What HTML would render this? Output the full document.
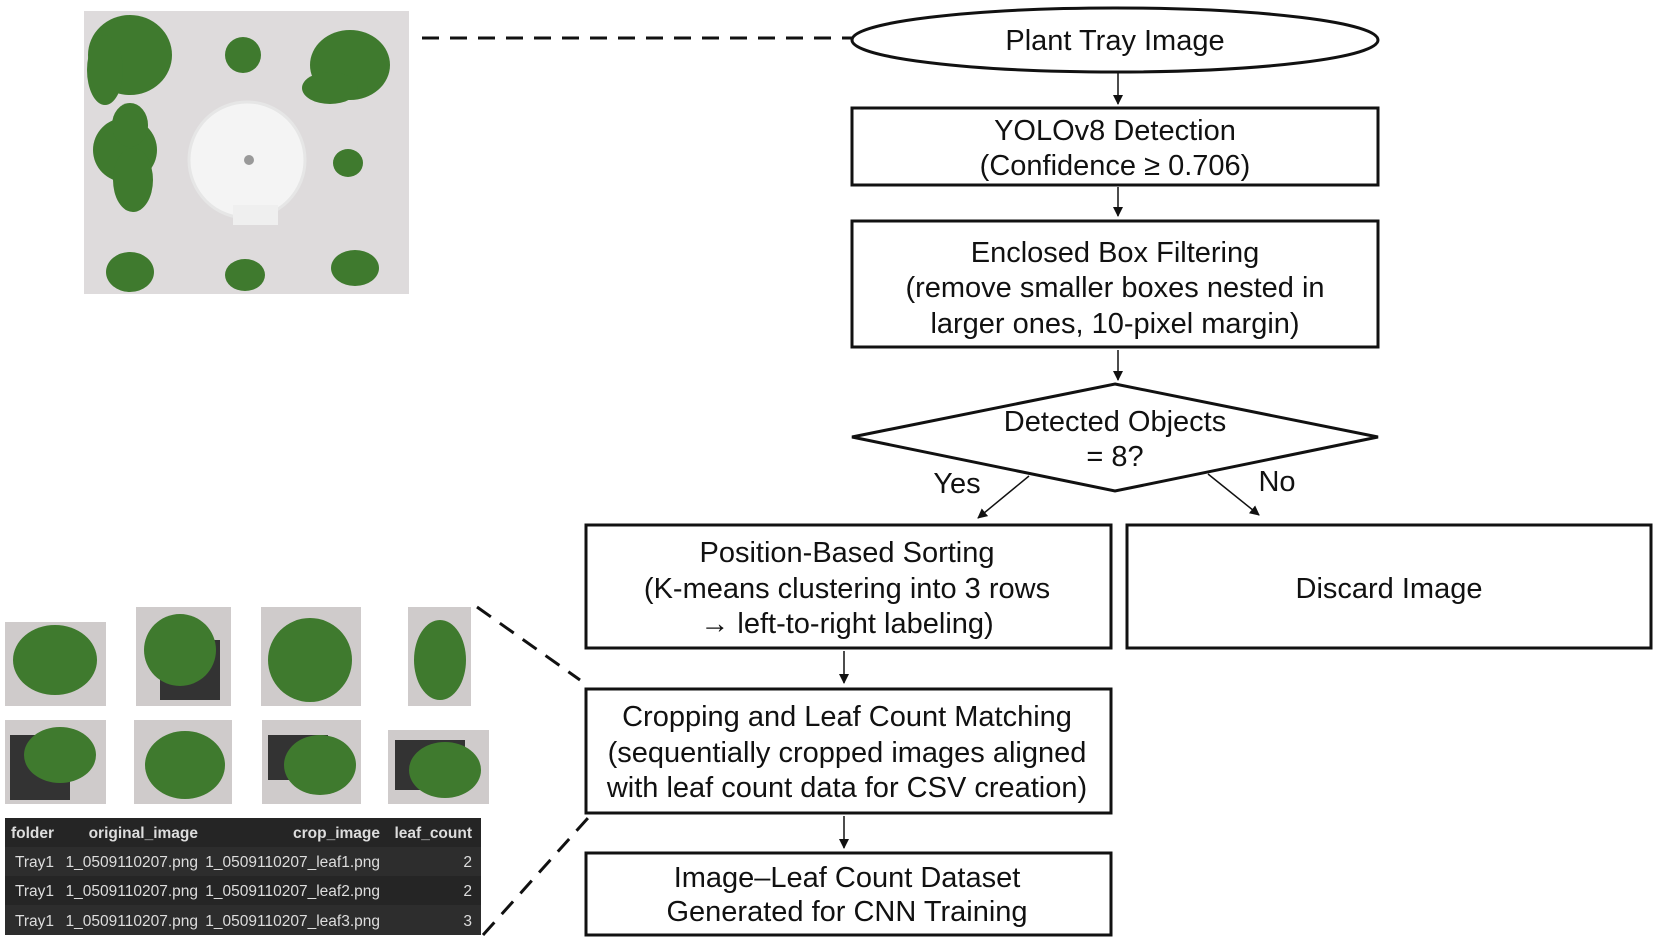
<!DOCTYPE html>
<html><head><meta charset="utf-8"><style>
body{margin:0;background:#fff;}
svg{display:block}
text{font-family:"Liberation Sans",Arial,sans-serif;fill:#111}
.t{font-size:29px;text-anchor:middle}
.tb{font-family:"Liberation Sans",sans-serif;font-size:15.5px;fill:#ddd}
</style></head><body>
<svg width="1654" height="939" viewBox="0 0 1654 939" xmlns="http://www.w3.org/2000/svg">
<defs>
<marker id="a" markerWidth="10" markerHeight="10" refX="9" refY="5" orient="auto" markerUnits="userSpaceOnUse"><path d="M0,0 L10,5 L0,10 z" fill="#111"/></marker>
</defs>
<rect x="84" y="11" width="325" height="283" fill="#dedbdc"/>
<g fill="#3f7a2e">
<ellipse cx="130" cy="55" rx="42" ry="40"/><ellipse cx="105" cy="70" rx="18" ry="35"/>
<ellipse cx="243" cy="55" rx="18" ry="18"/>
<ellipse cx="350" cy="65" rx="40" ry="35"/><ellipse cx="330" cy="88" rx="28" ry="16"/>
<ellipse cx="125" cy="150" rx="32" ry="32"/><ellipse cx="130" cy="125" rx="18" ry="22"/><ellipse cx="133" cy="180" rx="20" ry="32"/>
<ellipse cx="348" cy="163" rx="15" ry="14"/>
<ellipse cx="130" cy="272" rx="24" ry="20"/>
<ellipse cx="245" cy="275" rx="20" ry="16"/>
<ellipse cx="355" cy="268" rx="24" ry="18"/>
</g>
<circle cx="247" cy="160" r="58" fill="#f4f4f4" stroke="#e6e6e6" stroke-width="3"/>
<rect x="233" y="205" width="45" height="20" fill="#efefef"/>
<circle cx="249" cy="160" r="5" fill="#999"/>
<line x1="422" y1="38" x2="852" y2="38" stroke="#111" stroke-width="3" stroke-dasharray="17,11"/>
<ellipse cx="1115" cy="40" rx="263" ry="32" fill="#fff" stroke="#111" stroke-width="3"/>
<text class="t" x="1115" y="50">Plant Tray Image</text>
<line x1="1118" y1="73" x2="1118" y2="104" stroke="#111" stroke-width="1.5" marker-end="url(#a)"/>
<rect x="852" y="108" width="526" height="77" fill="#fff" stroke="#111" stroke-width="3"/>
<text class="t" x="1115" y="140">YOLOv8 Detection</text>
<text class="t" x="1115" y="175">(Confidence ≥ 0.706)</text>
<line x1="1118" y1="187" x2="1118" y2="216" stroke="#111" stroke-width="1.5" marker-end="url(#a)"/>
<rect x="852" y="221" width="526" height="126" fill="#fff" stroke="#111" stroke-width="3"/>
<text class="t" x="1115" y="262">Enclosed Box Filtering</text>
<text class="t" x="1115" y="297">(remove smaller boxes nested in</text>
<text class="t" x="1115" y="333">larger ones, 10-pixel margin)</text>
<line x1="1118" y1="350" x2="1118" y2="380" stroke="#111" stroke-width="1.5" marker-end="url(#a)"/>
<polygon points="1115,384 1378,437 1115,491 852,437" fill="#fff" stroke="#111" stroke-width="3"/>
<text class="t" x="1115" y="431">Detected Objects</text>
<text class="t" x="1115" y="466">= 8?</text>
<line x1="1029" y1="476" x2="978" y2="518" stroke="#111" stroke-width="1.5" marker-end="url(#a)"/>
<line x1="1208" y1="474" x2="1259" y2="515" stroke="#111" stroke-width="1.5" marker-end="url(#a)"/>
<text class="t" x="957" y="493">Yes</text>
<text class="t" x="1277" y="491">No</text>
<rect x="586" y="525" width="525" height="123" fill="#fff" stroke="#111" stroke-width="3"/>
<text class="t" x="847" y="562">Position-Based Sorting</text>
<text class="t" x="847" y="598">(K-means clustering into 3 rows</text>
<text class="t" x="847" y="633">→ left-to-right labeling)</text>
<rect x="1127" y="525" width="524" height="123" fill="#fff" stroke="#111" stroke-width="3"/>
<text class="t" x="1389" y="598">Discard Image</text>
<line x1="844" y1="651" x2="844" y2="683" stroke="#111" stroke-width="1.5" marker-end="url(#a)"/>
<rect x="586" y="689" width="525" height="124" fill="#fff" stroke="#111" stroke-width="3"/>
<text class="t" x="847" y="726">Cropping and Leaf Count Matching</text>
<text class="t" x="847" y="762">(sequentially cropped images aligned</text>
<text class="t" x="847" y="797">with leaf count data for CSV creation)</text>
<line x1="844" y1="816" x2="844" y2="848" stroke="#111" stroke-width="1.5" marker-end="url(#a)"/>
<rect x="586" y="853" width="525" height="82" fill="#fff" stroke="#111" stroke-width="3"/>
<text class="t" x="847" y="887">Image–Leaf Count Dataset</text>
<text class="t" x="847" y="921">Generated for CNN Training</text>
<g>
<rect x="5" y="622" width="101" height="84" fill="#cfcbcb"/><ellipse cx="55" cy="660" rx="42" ry="35" fill="#3f7a2e"/>
<rect x="136" y="607" width="95" height="99" fill="#cfcbcb"/><rect x="160" y="640" width="60" height="60" fill="#333"/><ellipse cx="180" cy="650" rx="36" ry="36" fill="#3f7a2e"/>
<rect x="261" y="607" width="100" height="99" fill="#cfcbcb"/><ellipse cx="310" cy="660" rx="42" ry="42" fill="#3f7a2e"/>
<rect x="408" y="607" width="63" height="99" fill="#cfcbcb"/><ellipse cx="440" cy="660" rx="26" ry="40" fill="#3f7a2e"/>
<rect x="5" y="720" width="101" height="84" fill="#cfcbcb"/><rect x="10" y="735" width="60" height="65" fill="#333"/><ellipse cx="60" cy="755" rx="36" ry="28" fill="#3f7a2e"/>
<rect x="134" y="720" width="98" height="84" fill="#cfcbcb"/><ellipse cx="185" cy="765" rx="40" ry="34" fill="#3f7a2e"/>
<rect x="262" y="720" width="99" height="84" fill="#cfcbcb"/><rect x="268" y="735" width="60" height="45" fill="#333"/><ellipse cx="320" cy="765" rx="36" ry="30" fill="#3f7a2e"/>
<rect x="388" y="730" width="101" height="74" fill="#cfcbcb"/><rect x="395" y="740" width="70" height="50" fill="#333"/><ellipse cx="445" cy="770" rx="36" ry="28" fill="#3f7a2e"/>
</g>
<rect x="5" y="818" width="476" height="117" fill="#252525"/>
<rect x="5" y="847" width="476" height="29" fill="#2d2d2d"/>
<rect x="5" y="905" width="476" height="30" fill="#2d2d2d"/>
<text class="tb" x="11" y="838" font-weight="bold">folder</text>
<text class="tb" x="198" y="838" font-weight="bold" text-anchor="end">original_image</text>
<text class="tb" x="380" y="838" font-weight="bold" text-anchor="end">crop_image</text>
<text class="tb" x="472" y="838" font-weight="bold" text-anchor="end">leaf_count</text>
<text class="tb" x="54" y="867" text-anchor="end">Tray1</text><text class="tb" x="198" y="867" text-anchor="end">1_0509110207.png</text><text class="tb" x="380" y="867" text-anchor="end">1_0509110207_leaf1.png</text><text class="tb" x="472" y="867" text-anchor="end">2</text>
<text class="tb" x="54" y="896" text-anchor="end">Tray1</text><text class="tb" x="198" y="896" text-anchor="end">1_0509110207.png</text><text class="tb" x="380" y="896" text-anchor="end">1_0509110207_leaf2.png</text><text class="tb" x="472" y="896" text-anchor="end">2</text>
<text class="tb" x="54" y="926" text-anchor="end">Tray1</text><text class="tb" x="198" y="926" text-anchor="end">1_0509110207.png</text><text class="tb" x="380" y="926" text-anchor="end">1_0509110207_leaf3.png</text><text class="tb" x="472" y="926" text-anchor="end">3</text>
<line x1="477" y1="607" x2="580" y2="680" stroke="#111" stroke-width="3" stroke-dasharray="17,11"/>
<line x1="483" y1="935" x2="588" y2="818" stroke="#111" stroke-width="3" stroke-dasharray="17,11"/>
</svg>
</body></html>
